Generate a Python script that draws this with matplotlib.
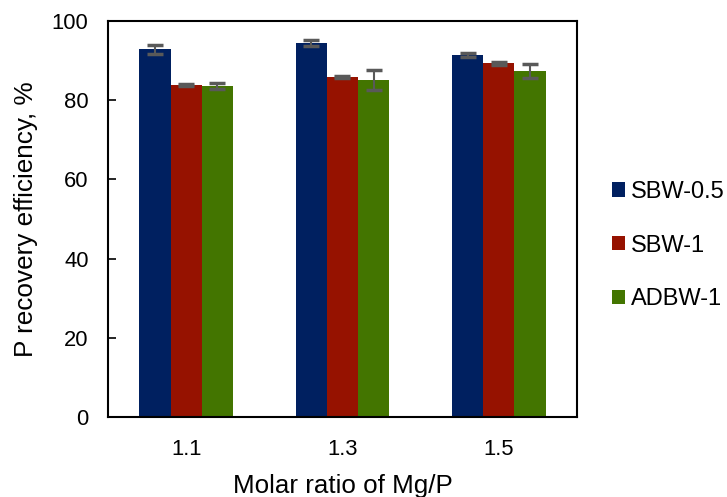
import numpy as np
import matplotlib.pyplot as plt

plt.rcParams['font.family'] = ['Liberation Sans', 'DejaVu Sans']

# razão molar Mg/P e eficiência de recuperação de P (%)
ratios = ["1.1", "1.3", "1.5"]
series = ["SBW-0.5", "SBW-1", "ADBW-1"]
sbw05 = [92.8, 94.4, 91.3]
sbw1 = [83.8, 85.9, 89.3]
adbw1 = [83.6, 85.0, 87.3]
sbw05_err = [1.1, 0.8, 0.5]
sbw1_err = [0.3, 0.2, 0.4]
adbw1_err = [0.7, 2.5, 1.8]

colors = ["#002060", "#961200", "#437500"]

fig = plt.figure(figsize=(7.27, 4.97), dpi=100)
ax = fig.add_axes([0.1486, 0.161, 0.645, 0.797])

x = np.arange(len(ratios))
w = 0.2
values = [sbw05, sbw1, adbw1]
errors = [sbw05_err, sbw1_err, adbw1_err]
for i, (v, e) in enumerate(zip(values, errors)):
    ax.bar(x + (i - 1) * w, v, w, color=colors[i], label=series[i],
           yerr=e, error_kw=dict(ecolor="#595959", elinewidth=1.5, capsize=6, capthick=2.5))

ax.set_xlim(-0.5, 2.5)
ax.set_ylim(0, 100)
ax.set_xticks(x)
ax.set_xticklabels(ratios)
ax.set_yticks(np.arange(0, 101, 20))
ax.tick_params(axis="x", length=0, pad=16, labelsize=15.8)
ax.tick_params(axis="y", direction="in", length=6, width=1.2, pad=14, labelsize=15.8)
for s in ax.spines.values():
    s.set_linewidth(1.5)

ax.set_xlabel("Molar ratio of Mg/P", fontsize=18.7, labelpad=10)
ax.set_ylabel("P recovery efficiency, %", fontsize=18.8, labelpad=10)

fig.legend(loc="center left", bbox_to_anchor=(0.826, 0.506), frameon=False,
           fontsize=17, labelspacing=1.34, handlelength=0.55, handleheight=0.55,
           handletextpad=0.25, borderpad=0)

fig.savefig("out.png", dpi=100)
